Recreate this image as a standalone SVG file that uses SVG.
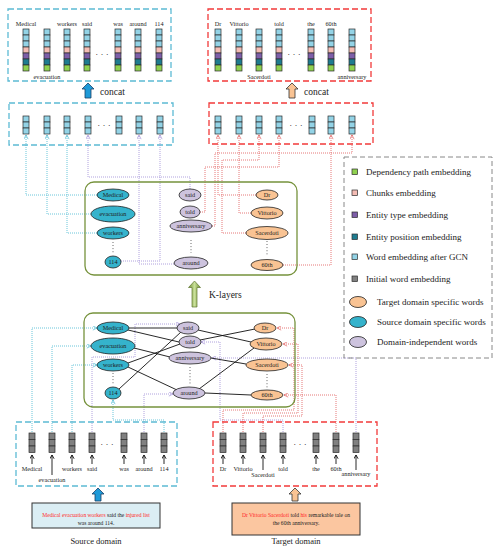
<svg xmlns="http://www.w3.org/2000/svg" xmlns:xlink="http://www.w3.org/1999/xlink" width="500" height="550" viewBox="0 0 500 550">
<style>
text{font-family:"Liberation Serif","Times New Roman",serif;fill:#222}
.lb{font-size:6.2px;text-anchor:middle}
.nt{font-size:6.2px;text-anchor:middle}
.lg{font-size:9px}
.cell{stroke:#2b2b2b;stroke-width:0.7}
.c1{fill:#93d3e6}.pk{fill:#f4bcb4}.pu{fill:#7d5ea8}.te{fill:#1e7c90}.gr{fill:#8fd14f}.gy{fill:#808080}
ellipse{stroke:#222;stroke-width:0.8}
.src{fill:#35b3cc}.tgt{fill:#f9c393}.ind{fill:#cdc3de}
.bc{fill:none;stroke:#5cbad4;stroke-width:1.3;stroke-dasharray:6 3}
.br{fill:none;stroke:#f23a3a;stroke-width:1.3;stroke-dasharray:6 3}
.gb{fill:none;stroke:#76923c;stroke-width:1.3}
.dc{fill:none;stroke:#45b7d0;stroke-width:0.8;stroke-dasharray:1 1}
.dp{fill:none;stroke:#9d8ad6;stroke-width:0.8;stroke-dasharray:1 1}
.dr{fill:none;stroke:#e05555;stroke-width:0.8;stroke-dasharray:1 1}
.ed{stroke:#111;stroke-width:0.9}
.ia{stroke:#111;stroke-width:0.9;fill:none}
.vd{stroke:#444;stroke-width:0.9;stroke-dasharray:0.9 2.2}
.dots{font-size:9px;text-anchor:middle}
</style>
<defs>
<marker id="mc" viewBox="0 0 6 6" refX="5.5" refY="3" markerWidth="5" markerHeight="5" markerUnits="userSpaceOnUse" orient="auto"><path d="M0.5,0.5 L5.5,3 L0.5,5.5" fill="none" stroke="#45b7d0" stroke-width="0.8"/></marker>
<marker id="mp" viewBox="0 0 6 6" refX="5.5" refY="3" markerWidth="5" markerHeight="5" markerUnits="userSpaceOnUse" orient="auto"><path d="M0.5,0.5 L5.5,3 L0.5,5.5" fill="none" stroke="#9d8ad6" stroke-width="0.8"/></marker>
<marker id="mr" viewBox="0 0 6 6" refX="5.5" refY="3" markerWidth="5" markerHeight="5" markerUnits="userSpaceOnUse" orient="auto"><path d="M0.5,0.5 L5.5,3 L0.5,5.5" fill="none" stroke="#e05555" stroke-width="0.8"/></marker>
<marker id="mk" viewBox="0 0 6 6" refX="5" refY="3" markerWidth="5" markerHeight="5" markerUnits="userSpaceOnUse" orient="auto"><path d="M0.5,0.5 L5,3 L0.5,5.5" fill="none" stroke="#111" stroke-width="1.1"/></marker>
<linearGradient id="gg" x1="0" y1="0" x2="1" y2="0"><stop offset="0" stop-color="#6f8f2f"/><stop offset="0.5" stop-color="#c9e09a"/><stop offset="1" stop-color="#6f8f2f"/></linearGradient>
<g id="col7"><rect class="cell c1" x="0" y="0" width="6" height="6"/><rect class="cell c1" x="0" y="6" width="6" height="6"/><rect class="cell c1" x="0" y="12" width="6" height="6"/><rect class="cell pk" x="0" y="18" width="6" height="6"/><rect class="cell pu" x="0" y="24" width="6" height="6"/><rect class="cell te" x="0" y="30" width="6" height="6"/><rect class="cell gr" x="0" y="36" width="6" height="6"/></g>
<g id="col3"><rect class="cell c1" x="0" y="0" width="6" height="6"/><rect class="cell c1" x="0" y="6" width="6" height="6"/><rect class="cell c1" x="0" y="12" width="6" height="6"/></g>
<g id="colg"><rect class="cell gy" x="0" y="0" width="6" height="6.5"/><rect class="cell gy" x="0" y="6.5" width="6" height="6.5"/><rect class="cell gy" x="0" y="13" width="6" height="6.5"/></g>
</defs>
<rect width="500" height="550" fill="#fff"/>

<g id="concat-source">
<rect class="bc" x="8" y="9" width="163" height="72"/>
<use href="#col7" x="23" y="29"/><use href="#col7" x="44" y="29"/><use href="#col7" x="64" y="29"/><use href="#col7" x="84" y="29"/><use href="#col7" x="115" y="29"/><use href="#col7" x="135" y="29"/><use href="#col7" x="156" y="29"/>
<text class="lb" x="26" y="26">Medical</text><text class="lb" x="67" y="26">workers</text><text class="lb" x="87" y="26">said</text><text class="lb" x="118" y="26">was</text><text class="lb" x="138" y="26">around</text><text class="lb" x="159" y="26">114</text>
<text class="lb" x="47" y="79">evacuation</text>
<text class="dots" x="102" y="57">· · ·</text>
</g>
<g id="concat-target">
<rect class="br" x="208" y="9" width="163" height="72"/>
<use href="#col7" x="215" y="29"/><use href="#col7" x="236" y="29"/><use href="#col7" x="256" y="29"/><use href="#col7" x="276" y="29"/><use href="#col7" x="308" y="29"/><use href="#col7" x="328" y="29"/><use href="#col7" x="349" y="29"/>
<text class="lb" x="218" y="26">Dr</text><text class="lb" x="239" y="26">Vittorio</text><text class="lb" x="279" y="26">told</text><text class="lb" x="311" y="26">the</text><text class="lb" x="331" y="26">60th</text>
<text class="lb" x="259" y="79">Sacerdoti</text><text class="lb" x="352" y="79">anniversary</text>
<text class="dots" x="294" y="57">· · ·</text>
</g>
<g id="concat-arrows">
<polygon points="88,83 94,89 91,89 91,98 85,98 85,89 82,89" fill="#1e9ad8" stroke="#1a3f66" stroke-width="0.8"/>
<text x="100" y="95" font-size="9.5">concat</text>
<polygon points="292,83 298,89 295,89 295,98 289,98 289,89 286,89" fill="#f9c393" stroke="#333" stroke-width="0.8"/>
<text x="304" y="95" font-size="9.5">concat</text>
</g>
<g id="gcn-source">
<rect class="bc" x="9" y="103" width="164" height="42"/>
<use href="#col3" x="23" y="116"/><use href="#col3" x="44" y="116"/><use href="#col3" x="64" y="116"/><use href="#col3" x="85" y="116"/><use href="#col3" x="116" y="116"/><use href="#col3" x="136" y="116"/><use href="#col3" x="157" y="116"/>
<text class="dots" x="104" y="128">· · ·</text>
</g>
<g id="gcn-target">
<rect class="br" x="209" y="103" width="164" height="41"/>
<use href="#col3" x="215" y="116"/><use href="#col3" x="236" y="116"/><use href="#col3" x="256" y="116"/><use href="#col3" x="276" y="116"/><use href="#col3" x="309" y="116"/><use href="#col3" x="328" y="116"/><use href="#col3" x="349" y="116"/>
<text class="dots" x="296" y="128">· · ·</text>
</g>

<g id="connectors">
<path class="dc" marker-end="url(#mc)" d="M97,195 H26 V135"/>
<path class="dc" marker-end="url(#mc)" d="M91,214 H47 V135"/>
<path class="dc" marker-end="url(#mc)" d="M97,233 H67 V135"/>
<path class="dp" marker-end="url(#mp)" d="M190,189 V177 H88 V135"/>
<path class="dp" marker-end="url(#mp)" d="M174,264 H139 V135"/>
<path class="dp" marker-end="url(#mp)" d="M121,261 H160 V135"/>
<path class="dr" marker-end="url(#mr)" d="M256,195 H218 V135"/>
<path class="dr" marker-end="url(#mr)" d="M251,213 H239 V135"/>
<path class="dr" marker-end="url(#mr)" d="M246,233 H222 V160 H259 V135"/>
<path class="dr" marker-end="url(#mr)" d="M200,212 H205 V167 H279 V135"/>
<path class="dr" marker-end="url(#mr)" d="M212,226 H215 V153 H352 V135"/>
<path class="dr" marker-end="url(#mr)" d="M283,265 H331 V135"/>

<path class="dc" marker-end="url(#mc)" d="M32,432 V328 H97"/>
<path class="dc" marker-end="url(#mc)" d="M52,432 V346 H91"/>
<path class="dc" marker-end="url(#mc)" d="M72,432 V365 H97"/>
<path class="dc" marker-end="url(#mc)" d="M164,432 V420 H113 V400"/>
<path class="dp" marker-end="url(#mp)" d="M92,432 V357 H135 V324 H180"/>
<path class="dp" marker-end="url(#mp)" d="M144,432 V394 H173"/>
<path class="dp" marker-end="url(#mp)" d="M283,432 V420 H220 V342 H201"/>
<path class="dp" marker-end="url(#mp)" d="M356,432 V358 H212"/>
<path class="dr" marker-end="url(#mr)" d="M223,432 V410 H294 V328 H277"/>
<path class="dr" marker-end="url(#mr)" d="M243,432 V413 H298 V344 H283"/>
<path class="dr" marker-end="url(#mr)" d="M263,432 V416 H302 V365 H289"/>
<path class="dr" marker-end="url(#mr)" d="M336,432 V395 H284"/>

<line class="ed" x1="129" y1="328" x2="177" y2="328"/>
<line class="ed" x1="128" y1="330" x2="179" y2="342"/>
<line class="ed" x1="134" y1="348" x2="170" y2="357"/>
<line class="ed" x1="128" y1="363" x2="180" y2="344"/>
<line class="ed" x1="128" y1="367" x2="177" y2="390"/>
<line class="ed" x1="119" y1="389" x2="181" y2="332"/>
<line class="ed" x1="198" y1="330" x2="251" y2="342"/>
<line class="ed" x1="200" y1="340" x2="255" y2="329"/>
<line class="ed" x1="211" y1="358" x2="246" y2="364"/>
<line class="ed" x1="199" y1="389" x2="254" y2="348"/>
<line class="ed" x1="205" y1="393" x2="251" y2="395"/>
</g>

<g id="graph-top">
<rect class="gb" x="85" y="182" width="212" height="93" rx="9"/>
<line class="vd" x1="113" y1="242" x2="113" y2="254"/>
<line class="vd" x1="191" y1="240" x2="191" y2="253"/>
<line class="vd" x1="267" y1="241" x2="267" y2="256"/>
</g>
<g id="t-Medical"><ellipse class="src" cx="113" cy="195" rx="16" ry="6"/><text class="nt" x="113" y="197.2">Medical</text></g>
<g id="t-evacuation"><ellipse class="src" cx="113" cy="214" rx="22" ry="8"/><text class="nt" x="113" y="216.2">evacuation</text></g>
<g id="t-workers"><ellipse class="src" cx="113" cy="233" rx="16" ry="6"/><text class="nt" x="113" y="235.2">workers</text></g>
<g id="t-114"><ellipse class="src" cx="113" cy="262" rx="8" ry="6"/><text class="nt" x="113" y="264.2">114</text></g>
<g id="t-said"><ellipse class="ind" cx="190" cy="195" rx="11" ry="6"/><text class="nt" x="190" y="197.2">said</text></g>
<g id="t-told"><ellipse class="ind" cx="190" cy="212" rx="10" ry="6"/><text class="nt" x="190" y="214.2">told</text></g>
<g id="t-anniversary"><ellipse class="ind" cx="191" cy="226" rx="21" ry="6"/><text class="nt" x="191" y="228.2">anniversary</text></g>
<g id="t-around"><ellipse class="ind" cx="191" cy="263" rx="17" ry="6"/><text class="nt" x="191" y="265.2">around</text></g>
<g id="t-Dr"><ellipse class="tgt" cx="267" cy="195" rx="11" ry="5"/><text class="nt" x="267" y="197.2">Dr</text></g>
<g id="t-Vittorio"><ellipse class="tgt" cx="267" cy="213" rx="16" ry="6"/><text class="nt" x="267" y="215.2">Vittorio</text></g>
<g id="t-Sacerdoti"><ellipse class="tgt" cx="267" cy="233" rx="21" ry="6.5"/><text class="nt" x="267" y="235.2">Sacerdoti</text></g>
<g id="t-60th"><ellipse class="tgt" cx="267" cy="265" rx="16" ry="5.5"/><text class="nt" x="267" y="267.2">60th</text></g>

<g id="k-layers">
<polygon points="194.5,281 200.5,287.5 197,287.5 197,307 192,307 192,287.5 188.5,287.5" fill="url(#gg)" stroke="#5f7530" stroke-width="0.7"/>
<text x="209" y="298" font-size="9.5">K-layers</text>
</g>

<g id="graph-bottom">
<rect class="gb" x="84" y="313" width="211" height="94" rx="9"/>
<line class="vd" x1="113" y1="373" x2="113" y2="385"/>
<line class="vd" x1="190" y1="367" x2="190" y2="384"/>
<line class="vd" x1="267" y1="374" x2="267" y2="388"/>
</g>
<g id="b-Medical"><ellipse class="src" cx="113" cy="328" rx="16" ry="6"/><text class="nt" x="113" y="330.2">Medical</text></g>
<g id="b-evacuation"><ellipse class="src" cx="113" cy="346" rx="22" ry="8"/><text class="nt" x="113" y="348.2">evacuation</text></g>
<g id="b-workers"><ellipse class="src" cx="113" cy="365" rx="16" ry="6"/><text class="nt" x="113" y="367.2">workers</text></g>
<g id="b-114"><ellipse class="src" cx="113" cy="393" rx="8" ry="6"/><text class="nt" x="113" y="395.2">114</text></g>
<g id="b-said"><ellipse class="ind" cx="188" cy="328" rx="11" ry="6"/><text class="nt" x="188" y="330.2">said</text></g>
<g id="b-told"><ellipse class="ind" cx="190" cy="342" rx="11" ry="6"/><text class="nt" x="190" y="344.2">told</text></g>
<g id="b-anniversary"><ellipse class="ind" cx="190" cy="358" rx="21" ry="6"/><text class="nt" x="190" y="360.2">anniversary</text></g>
<g id="b-around"><ellipse class="ind" cx="189" cy="393" rx="16" ry="6"/><text class="nt" x="189" y="395.2">around</text></g>
<g id="b-Dr"><ellipse class="tgt" cx="265" cy="328" rx="11" ry="5"/><text class="nt" x="265" y="330.2">Dr</text></g>
<g id="b-Vittorio"><ellipse class="tgt" cx="266" cy="344" rx="16" ry="6"/><text class="nt" x="266" y="346.2">Vittorio</text></g>
<g id="b-Sacerdoti"><ellipse class="tgt" cx="267" cy="365" rx="21" ry="6"/><text class="nt" x="267" y="367.2">Sacerdoti</text></g>
<g id="b-60th"><ellipse class="tgt" cx="267" cy="395" rx="16" ry="5"/><text class="nt" x="267" y="397.2">60th</text></g>

<g id="legend">
<rect x="344" y="157" width="148" height="201" fill="none" stroke="#888" stroke-width="1" stroke-dasharray="5 3"/>
<rect class="cell gr" x="352" y="169" width="5.5" height="5.5"/><text class="lg" x="366" y="175">Dependency path embedding</text>
<rect class="cell pk" x="352" y="190" width="5.5" height="5.5"/><text class="lg" x="366" y="196">Chunks embedding</text>
<rect class="cell pu" x="352" y="212" width="5.5" height="5.5"/><text class="lg" x="366" y="218">Entity type embedding</text>
<rect class="cell te" x="352" y="234" width="5.5" height="5.5"/><text class="lg" x="366" y="240">Entity position embedding</text>
<rect class="cell c1" x="352" y="254" width="5.5" height="5.5"/><text class="lg" x="366" y="260">Word embedding after GCN</text>
<rect class="cell gy" x="352" y="276" width="5.5" height="5.5"/><text class="lg" x="366" y="282">Initial word embedding</text>
<ellipse class="tgt" cx="358" cy="302" rx="8.5" ry="5.5"/><text class="lg" x="377" y="305">Target domain specific words</text>
<ellipse class="src" cx="358" cy="322" rx="8.5" ry="5.5"/><text class="lg" x="377" y="325">Source domain specific words</text>
<ellipse class="ind" cx="358" cy="342" rx="8.5" ry="5.5"/><text class="lg" x="377" y="345">Domain-independent words</text>
</g>

<g id="input-source">
<rect class="bc" x="16" y="422" width="161" height="64"/>
<use href="#colg" x="29" y="433"/><use href="#colg" x="49" y="433"/><use href="#colg" x="69" y="433"/><use href="#colg" x="89" y="433"/><use href="#colg" x="121" y="433"/><use href="#colg" x="141" y="433"/><use href="#colg" x="161" y="433"/>
<path class="ia" marker-end="url(#mk)" d="M32,464 V455"/><path class="ia" marker-end="url(#mk)" d="M52,475 V455"/><path class="ia" marker-end="url(#mk)" d="M72,464 V455"/><path class="ia" marker-end="url(#mk)" d="M92,464 V455"/><path class="ia" marker-end="url(#mk)" d="M124,464 V455"/><path class="ia" marker-end="url(#mk)" d="M144,464 V455"/><path class="ia" marker-end="url(#mk)" d="M164,464 V455"/>
<text class="lb" x="32" y="471">Medical</text><text class="lb" x="72" y="471">workers</text><text class="lb" x="92" y="471">said</text><text class="lb" x="124" y="471">was</text><text class="lb" x="144" y="471">around</text><text class="lb" x="164" y="471">114</text>
<text class="lb" x="52" y="482">evacuation</text>
<text class="dots" x="107" y="447">· · ·</text>
</g>
<g id="input-target">
<rect class="br" x="213" y="422" width="164" height="64"/>
<use href="#colg" x="220" y="433"/><use href="#colg" x="240" y="433"/><use href="#colg" x="260" y="433"/><use href="#colg" x="280" y="433"/><use href="#colg" x="313" y="433"/><use href="#colg" x="333" y="433"/><use href="#colg" x="353" y="433"/>
<path class="ia" marker-end="url(#mk)" d="M223,464 V455"/><path class="ia" marker-end="url(#mk)" d="M243,464 V455"/><path class="ia" marker-end="url(#mk)" d="M263,470 V455"/><path class="ia" marker-end="url(#mk)" d="M283,464 V455"/><path class="ia" marker-end="url(#mk)" d="M316,464 V455"/><path class="ia" marker-end="url(#mk)" d="M336,464 V455"/><path class="ia" marker-end="url(#mk)" d="M356,470 V455"/>
<text class="lb" x="223" y="471">Dr</text><text class="lb" x="243" y="471">Vittorio</text><text class="lb" x="283" y="471">told</text><text class="lb" x="316" y="471">the</text><text class="lb" x="336" y="471">60th</text>
<text class="lb" x="263" y="477">Sacerdoti</text><text class="lb" x="356" y="476">anniversary</text>
<text class="dots" x="300" y="447">· · ·</text>
</g>

<g id="source-sentence">
<polygon points="98,488 104,494 101,494 101,501 95,501 95,494 92,494" fill="#1e9ad8" stroke="#1a3f66" stroke-width="0.8"/>
<rect x="32" y="503" width="128" height="25" fill="#dbeef4" stroke="#333" stroke-width="1"/>
<text x="96" y="517" font-size="5.6" text-anchor="middle"><tspan fill="#ff2a2a">Medical evacuation workers</tspan> said the <tspan fill="#ff2a2a">injured list</tspan></text>
<text x="96" y="524.5" font-size="5.6" text-anchor="middle">was around 114.</text>
<text x="96" y="543.5" font-size="8.5" text-anchor="middle">Source domain</text>
</g>
<g id="target-sentence">
<polygon points="295,488 301,494 298,494 298,501 292,501 292,494 289,494" fill="#f9c393" stroke="#333" stroke-width="0.8"/>
<rect x="232" y="503" width="128" height="32" fill="#fbc6a0" stroke="#333" stroke-width="1"/>
<text x="296" y="517" font-size="5.6" text-anchor="middle"><tspan fill="#ff2a2a">Dr Vittorio Sacerdoti</tspan> told <tspan fill="#ff2a2a">his</tspan> remarkable tale on</text>
<text x="296" y="524.5" font-size="5.6" text-anchor="middle">the 60th anniversary.</text>
<text x="296" y="543.5" font-size="8.5" text-anchor="middle">Target domain</text>
</g>
</svg>
